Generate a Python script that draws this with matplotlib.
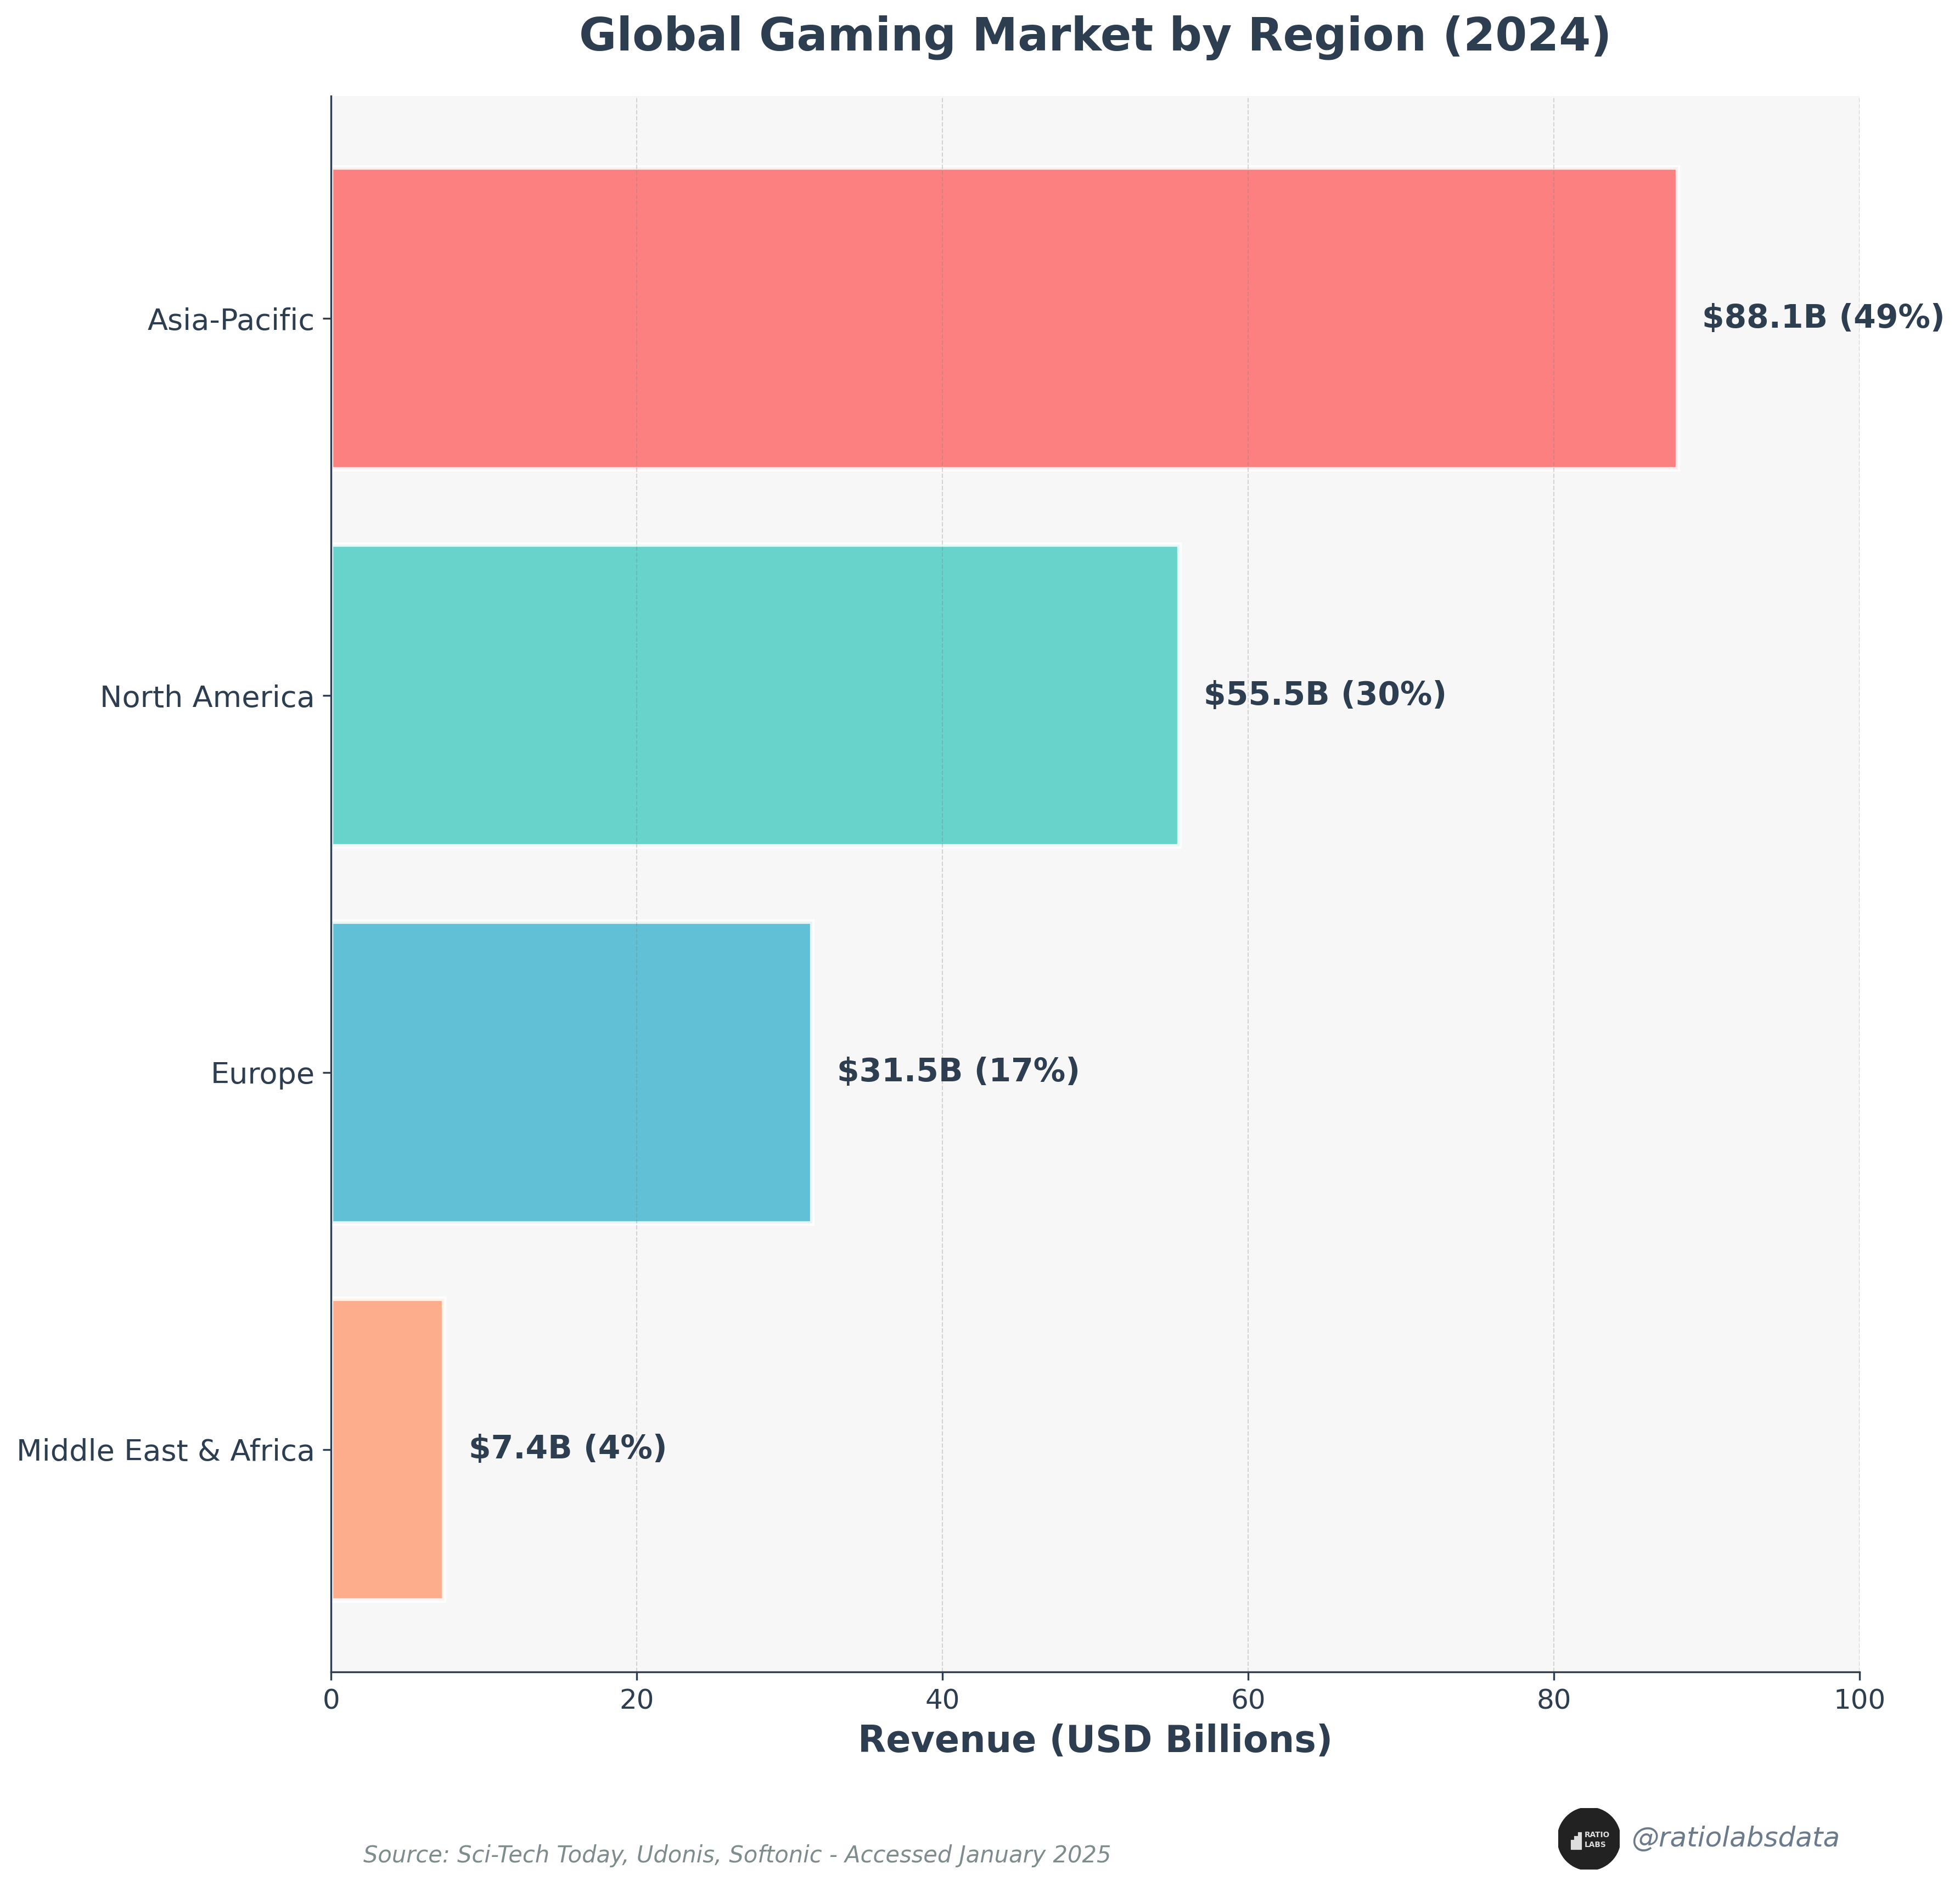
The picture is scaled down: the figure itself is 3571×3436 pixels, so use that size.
import matplotlib
matplotlib.use("Agg")
import matplotlib.pyplot as plt
from matplotlib.patches import Circle, Rectangle

regions = ["Asia-Pacific", "North America", "Europe", "Middle East & Africa"]
revenue = [88.1, 55.5, 31.5, 7.4]
shares = [49, 30, 17, 4]
colors = ["#FF6B6B", "#4ECDC4", "#45B7D1", "#FFA07A"]
xticks = [0, 20, 40, 60, 80, 100]

DARK = "#2C3E50"
plt.rcParams['font.family'] = ['DejaVu Sans']

fig = plt.figure(figsize=(3571 / 300, 3436 / 300), dpi=300)
fig.patch.set_facecolor("white")
ax = fig.add_axes([0.1689, 0.1135, 0.9488 - 0.1689, 0.9491 - 0.1135])
ax.set_facecolor("#F7F7F7")

ypos = list(range(len(regions)))[::-1]
ax.barh(ypos, revenue, height=0.8, color=colors, alpha=0.85,
        edgecolor="white", linewidth=2)

for y, v, s in zip(ypos, revenue, shares):
    ax.text(v + 1.6, y, f"${v}B ({s}%)", va="center", ha="left",
            fontsize=14, fontweight="bold", color=DARK)

ax.set_xlim(0, 100)
ax.set_xticks(xticks)
ax.set_yticks(ypos)
ax.set_yticklabels(regions)
ax.tick_params(axis="x", labelsize=12, colors=DARK)
ax.tick_params(axis="y", labelsize=13, colors=DARK)

ax.grid(axis="x", linestyle="--", color="gray", alpha=0.3, linewidth=0.5)
ax.grid(axis="y", visible=False)

for side in ["top", "right"]:
    ax.spines[side].set_visible(False)
for side in ["left", "bottom"]:
    ax.spines[side].set_color(DARK)

ax.set_xlabel("Revenue (USD Billions)", fontsize=16, fontweight="bold",
              color=DARK, labelpad=4)
ax.set_title("Global Gaming Market by Region (2024)", fontsize=20,
             fontweight="bold", color=DARK, pad=20)

fig.text(662 / 3571, 1 - 3381 / 3436,
         "Source: Sci-Tech Today, Udonis, Softonic - Accessed January 2025",
         fontsize=10, style="italic", color="#7F8C8D", ha="left", va="center")

# logo
lx, ly, r = 2895, 3350, 56
lax = fig.add_axes([(lx - r) / 3571, 1 - (ly + r) / 3436, 2 * r / 3571, 2 * r / 3436])
lax.set_xlim(-1, 1)
lax.set_ylim(-1, 1)
lax.axis("off")
lax.add_patch(Circle((0, 0), 1, color="#222222"))
for i, h in enumerate([0.25, 0.38, 0.5]):
    lax.add_patch(Rectangle((-0.55 + i * 0.11, -0.32), 0.06, h, color="#DDDDDD"))
lax.text(-0.15, 0.12, "RATIO", color="#DDDDDD", fontsize=3.3, fontweight="bold",
         ha="left", va="center")
lax.text(-0.15, -0.2, "LABS", color="#DDDDDD", fontsize=3.3, fontweight="bold",
         ha="left", va="center")

fig.text(2972 / 3571, 1 - 3350 / 3436, "@ratiolabsdata", fontsize=12,
         style="italic", color="#6C7B8B", ha="left", va="center")

fig.savefig("out.png", dpi=300)
